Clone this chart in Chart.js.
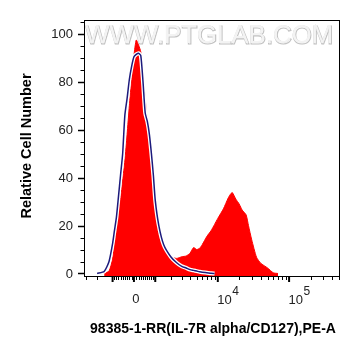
<!DOCTYPE html>
<html><head><meta charset="utf-8">
<script src="https://cdn.jsdelivr.net/npm/chart.js@4.4.0/dist/chart.umd.min.js"></script>
<style>html,body{margin:0;padding:0;background:#fff;}#wrap{width:361px;height:356px;}</style>
</head><body><div id="wrap"><canvas id="c" width="361" height="356"></canvas></div>
<script>
// ---- data (fluorescence intensity bins, PE-A) ----
const intensity = [-3000,-2000,-1500,-1200,-1000,-900,-800,-700,-600,-500,-400,-300,-200,-100,0,100,200,300,400,500,600,700,800,900,1000,1200,1500,2000,2500,3000,3500,4000,4500,5000,5500,6000,7000,8000,9000,10000,12000,14000,15000,16000,18000,20000,22000,25000,27000,30000,35000,40000,50000,60000,70000,100000];
const stainedCounts = [0,0,0,1,6,12,18,25,31,39,47,58,70,81,91,97.5,95.5,92.5,83,73,63,56,44,34,26,16,11,7,6.3,7,7.3,8.5,10.8,10,10.5,12,15.5,17.8,20.5,23,27,31.5,33,33.8,31,29,26.5,24.5,20,14,6.8,4.3,2.3,0.3,0,0];
const isotypeCounts = [0,0,0.8,5,12.5,18,23.5,32,41,50,66,73,81,86.5,90.5,91.5,92,91,80,67,63.5,58,50,41,30.5,20,12,7,4.5,3,2.3,1.6,1.3,1,0.7,0.5,0.3,0.1,0,0,0,0,0,0,0,0,0,0,0,0,0,0,0,0,0,0];
const yTickValues = [0,20,40,60,80,100];
const yMinorStep = 5;
const xMajorTicks = [-1000,0,1000,10000,100000];
const xLabelTicks = [0,10000,100000];
const xLabelBase = ["0","10","10"];
const xLabelExp = ["","4","5"];
const xMinorTicks = [-3000,-2000,-900,-800,-700,-600,-500,-400,-300,-200,-100,100,200,300,400,500,600,700,800,900,2000,3000,4000,5000,6000,7000,8000,9000,20000,30000,40000,50000,60000,70000,80000,90000,200000,300000,400000,500000];
const xTitle = "98385-1-RR(IL-7R alpha/CD127),PE-A";
const yTitle = "Relative Cell Number";
const watermark = "WWW.PTGLAB.COM";
const xRange = [-3230, 516000];
const yRange = [-1.05, 105.85];

// biexponential (arcsinh) display transform
const W = 1346;
const tf = v => Math.asinh(v / W);

function trimmed(vals){
  let a = vals.findIndex(v => v > 0), b = vals.length - 1;
  while (b > 0 && !(vals[b] > 0)) b--;
  a = Math.max(0, a - 1); b = Math.min(vals.length - 1, b + 1);
  const out = [];
  for (let i = a; i <= b; i++) out.push({x: tf(intensity[i]), y: vals[i]});
  return out;
}
const redData = trimmed(stainedCounts);
const blueData = trimmed(isotypeCounts);

const FONT = '"Liberation Sans", Arial, Helvetica, sans-serif';

const decor = {
  id: 'decor',
  afterDatasetsDraw(chart){
    const ctx = chart.ctx, ca = chart.chartArea;
    const xs = chart.scales.x, ys = chart.scales.y;
    ctx.save();
    // watermark
    ctx.font = '25px ' + FONT;
    const tw = ctx.measureText(watermark).width;
    const target = 248, cx = 209, by = 43;
    ctx.translate(cx, by); ctx.scale(target / tw, 1);
    ctx.textAlign = 'center'; ctx.textBaseline = 'alphabetic';
    ctx.lineWidth = 1.1;
    ctx.strokeStyle = '#c2c2c2';
    ctx.strokeText(watermark, 0.6, 0.6);
    ctx.fillStyle = '#f3f3f3';
    ctx.fillText(watermark, 0, 0);
    ctx.restore();

    ctx.save();
    // frame
    ctx.strokeStyle = '#000'; ctx.lineWidth = 1;
    ctx.strokeRect(ca.left + 0.5, ca.top + 0.5, ca.right - ca.left - 1, ca.bottom - ca.top);
    ctx.beginPath(); ctx.moveTo(ca.left, ca.bottom + 0.5); ctx.lineTo(ca.right, ca.bottom + 0.5); ctx.stroke();
    // x ticks
    const bot = ca.bottom;
    xMinorTicks.forEach(v => {
      const p = Math.round(xs.getPixelForValue(tf(v))) + 0.5;
      if (p < ca.left - 1 || p > ca.right + 1) return;
      ctx.lineWidth = 1; ctx.beginPath(); ctx.moveTo(p, bot); ctx.lineTo(p, bot + 4); ctx.stroke();
    });
    xMajorTicks.forEach(v => {
      const p = xs.getPixelForValue(tf(v));
      ctx.lineWidth = 2; ctx.beginPath(); ctx.moveTo(p, bot); ctx.lineTo(p, bot + 6); ctx.stroke();
    });
    // y ticks
    const left = ca.left;
    for (let v = 0; v <= 105; v += yMinorStep) {
      const p = Math.round(ys.getPixelForValue(v)) + 0.5;
      const major = yTickValues.includes(v);
      ctx.lineWidth = major ? 1.5 : 1;
      ctx.beginPath(); ctx.moveTo(left, p); ctx.lineTo(left - (major ? 6 : 3.5), p); ctx.stroke();
    }
    // y labels
    ctx.fillStyle = '#222'; ctx.font = '13px ' + FONT;
    ctx.textAlign = 'right'; ctx.textBaseline = 'middle';
    yTickValues.forEach(v => ctx.fillText(String(v), 73, ys.getPixelForValue(v) + 0.5));
    // x labels
    ctx.textBaseline = 'alphabetic';
    xLabelTicks.forEach((v, i) => {
      const p = xs.getPixelForValue(tf(v));
      ctx.font = '13px ' + FONT;
      if (!xLabelExp[i]) { ctx.textAlign = 'center'; ctx.fillText(xLabelBase[i], p + 2, 302.5); return; }
      ctx.textAlign = 'left';
      ctx.fillText(xLabelBase[i], p - 0.5, 303.5);
      const w = ctx.measureText(xLabelBase[i]).width;
      ctx.font = '12px ' + FONT;
      ctx.fillText(xLabelExp[i], p - 0.5 + w + 0.5, 294.5);
    });
    // titles
    ctx.fillStyle = '#000';
    ctx.font = 'bold 14px ' + FONT;
    ctx.textAlign = 'center'; ctx.textBaseline = 'middle';
    ctx.fillText(xTitle, 213, 329);
    ctx.translate(27, 146); ctx.rotate(-Math.PI / 2);
    ctx.font = 'bold 14.5px ' + FONT;
    ctx.fillText(yTitle, 0, 0);
    ctx.restore();
  }
};

new Chart(document.getElementById('c'), {
  type: 'line',
  data: {
    datasets: [
      {label: 'Isotype', data: blueData, borderColor: '#1c1a7c', borderWidth: 1.5, pointRadius: 0, fill: false, tension: 0.2},
      {label: 'halo', data: blueData, borderColor: '#ffffff', borderWidth: 4, pointRadius: 0, fill: false, tension: 0.2},
      {label: 'Stained', data: redData, borderColor: '#ff0000', backgroundColor: '#ff0000', borderWidth: 1, pointRadius: 0, fill: 'start', tension: 0.2}
    ]
  },
  plugins: [decor],
  options: {
    responsive: false, animation: false, devicePixelRatio: 1,
    layout: {padding: {left: 84, right: 21, top: 20, bottom: 80}},
    plugins: {legend: {display: false}, tooltip: {enabled: false}},
    scales: {
      x: {type: 'linear', display: false, min: tf(xRange[0]), max: tf(xRange[1])},
      y: {type: 'linear', display: false, min: yRange[0], max: yRange[1]}
    }
  }
});
</script></body></html>
